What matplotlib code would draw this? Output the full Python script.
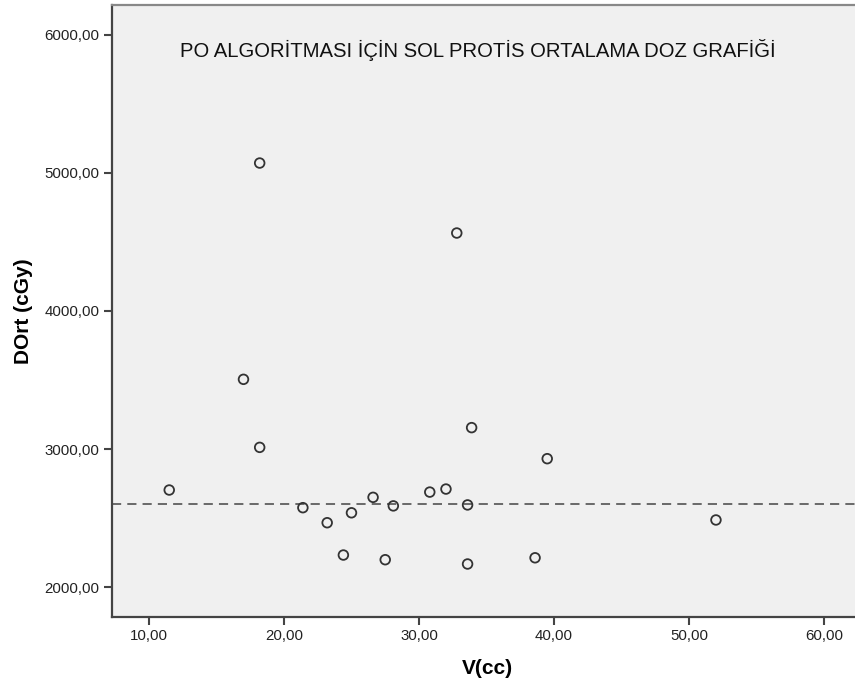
import matplotlib
matplotlib.use("Agg")
import matplotlib.pyplot as plt
from matplotlib.ticker import FuncFormatter

# volume (cc) and mean dose (cGy) per patient
volume = [18.2, 32.8, 17.0, 18.2, 33.9, 39.5, 11.5, 21.4, 23.2, 25.0,
          26.6, 28.1, 30.8, 32.0, 33.6, 24.4, 27.5, 33.6, 38.6, 52.0]
dose = [5072, 4565, 3505, 3012, 3155, 2930, 2703, 2575, 2466, 2538,
        2650, 2588, 2688, 2710, 2595, 2232, 2198, 2167, 2212, 2486]
mean_dose = 2600

x_ticks = [10, 20, 30, 40, 50, 60]
y_ticks = [2000, 3000, 4000, 5000, 6000]
title = "PO ALGORİTMASI İÇİN SOL PROTİS ORTALAMA DOZ GRAFİĞİ"

plt.rcParams['font.family'] = ['Liberation Sans', 'DejaVu Sans']

fig = plt.figure(figsize=(8.55, 6.88), dpi=100)
ax = fig.add_axes([112 / 855, 1 - 617 / 688, 743 / 855, 612 / 688])
ax.set_facecolor('#f0f0f0')

ax.scatter(volume, dose, s=48, facecolors='none', edgecolors='#333333',
           linewidths=1.3, zorder=3)
ax.axhline(mean_dose, color='#444444', linestyle=(0, (6, 4)), linewidth=1.1)

ax.set_xlim(7.26, 62.3)
ax.set_ylim(1783, 6217)
ax.set_xticks(x_ticks)
ax.set_yticks(y_ticks)
fmt = FuncFormatter(lambda v, p: f"{v:.2f}".replace('.', ','))
ax.xaxis.set_major_formatter(fmt)
ax.yaxis.set_major_formatter(fmt)
ax.tick_params(axis='both', direction='out', length=6, width=1.5,
               color='#444444', labelsize=10.8, labelcolor='#222222', pad=3)

for side in ['left', 'bottom']:
    ax.spines[side].set_color('#444444')
    ax.spines[side].set_linewidth(1.6)
ax.spines['top'].set_color('#888888')
ax.spines['top'].set_linewidth(1.6)
ax.spines['right'].set_visible(False)

ax.text(0.492, 0.926, title, transform=ax.transAxes, ha='center', va='center',
        fontsize=14.6, color='#111111')

ax.set_xlabel("V(cc)", fontsize=15, fontweight='bold')
ax.set_ylabel("DOrt (cGy)", fontsize=15, fontweight='bold')
ax.xaxis.set_label_coords((487 - 112) / 743, -(659 - 617) / 612)
ax.yaxis.set_label_coords(-(112 - 33) / 743, (617 - 311) / 612)

fig.savefig("out.png", dpi=100)
